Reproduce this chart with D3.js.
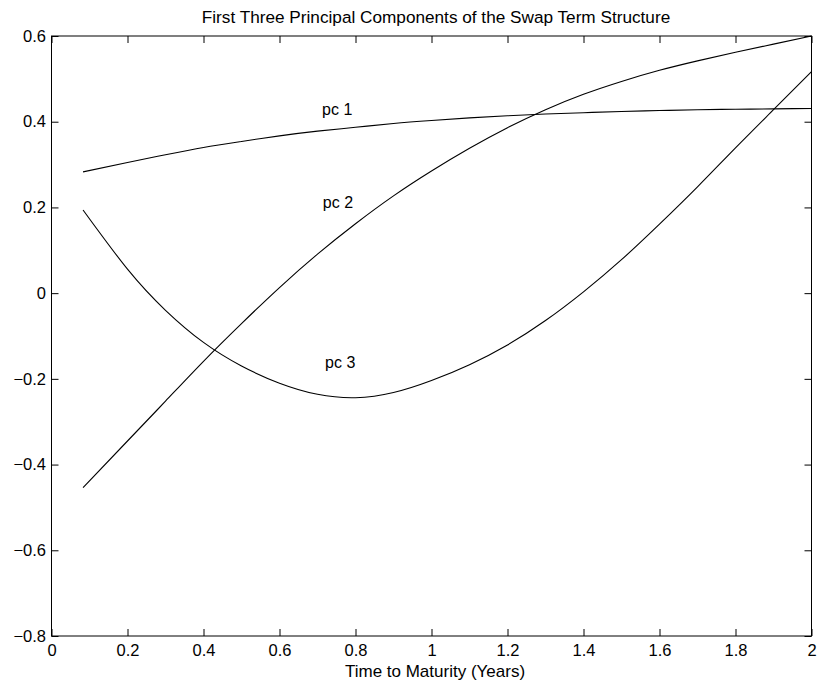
<!DOCTYPE html>
<html>
<head>
<meta charset="utf-8">
<script src="https://cdn.jsdelivr.net/npm/d3@7/dist/d3.min.js"></script>
<style>
  html, body { margin: 0; padding: 0; background: #fff; }
  svg { display: block; font-family: "Liberation Sans", Arial, Helvetica, sans-serif; }
</style>
</head>
<body>
<svg id="chart" width="817" height="688"></svg>
<script>
// ---- data ----
const maturities = [0.083, 0.2, 0.3, 0.4, 0.5, 0.6, 0.7, 0.8, 0.9, 1.0, 1.1, 1.2, 1.3, 1.4, 1.5, 1.6, 1.7, 1.8, 1.9, 2.0];
const pc1 = [0.283, 0.305, 0.323, 0.340, 0.354, 0.367, 0.378, 0.387, 0.396, 0.403, 0.409, 0.414, 0.418, 0.421, 0.424, 0.426, 0.428, 0.429, 0.430, 0.431];
const pc2 = [-0.454, -0.345, -0.252, -0.159, -0.071, 0.013, 0.091, 0.162, 0.227, 0.285, 0.338, 0.386, 0.428, 0.464, 0.494, 0.520, 0.542, 0.562, 0.581, 0.600];
const pc3 = [0.194, 0.056, -0.040, -0.115, -0.170, -0.210, -0.236, -0.244, -0.232, -0.204, -0.167, -0.121, -0.064, 0.003, 0.078, 0.161, 0.248, 0.339, 0.428, 0.517];
const seriesNames = ["pc 1", "pc 2", "pc 3"];
const labelX = [0.712, 0.714, 0.720];
const labelY = [0.416, 0.199, -0.175];
const xTicks = [0, 0.2, 0.4, 0.6, 0.8, 1, 1.2, 1.4, 1.6, 1.8, 2];
const yTicks = [-0.8, -0.6, -0.4, -0.2, 0, 0.2, 0.4, 0.6];
const titleText = "First Three Principal Components of the Swap Term Structure";
const xLabelText = "Time to Maturity (Years)";

// ---- layout ----
const L = 51.5, R = 811.5, T = 36, B = 636;
const svg = d3.select("#chart");
const x = d3.scaleLinear().domain([0, 2]).range([L, R]);
const y = d3.scaleLinear().domain([-0.8, 0.6]).range([B, T]);
const tickLen = 7;
const fmt = v => (v === 0 ? "0" : String(+v.toFixed(1))).replace("-", "\u2212");

// frame
svg.append("rect").attr("x", L).attr("y", T).attr("width", R - L).attr("height", B - T)
  .attr("fill", "none").attr("stroke", "#000").attr("stroke-width", 1);

// axes (inward ticks, all four sides)
const gB = svg.append("g").attr("transform", `translate(0,${B})`)
  .call(d3.axisBottom(x).tickValues(xTicks).tickSizeInner(-tickLen).tickSizeOuter(0).tickPadding(9.5).tickFormat(fmt));
const gT = svg.append("g").attr("transform", `translate(0,${T})`)
  .call(d3.axisTop(x).tickValues(xTicks).tickSizeInner(-tickLen).tickSizeOuter(0).tickFormat(""));
const gL = svg.append("g").attr("transform", `translate(${L},0)`)
  .call(d3.axisLeft(y).tickValues(yTicks).tickSizeInner(-tickLen).tickSizeOuter(0).tickPadding(5.5).tickFormat(fmt));
const gR = svg.append("g").attr("transform", `translate(${R},0)`)
  .call(d3.axisRight(y).tickValues(yTicks).tickSizeInner(-tickLen).tickSizeOuter(0).tickFormat(""));
[gB, gT, gL, gR].forEach(g => {
  g.select(".domain").remove();
  g.selectAll(".tick line").attr("stroke", "#000").attr("stroke-width", 1);
  g.selectAll(".tick text").attr("fill", "#000").attr("font-size", 16.5)
    .attr("font-family", "'Liberation Sans', Arial, sans-serif");
});
gB.selectAll(".tick text").attr("dy", "0.62em");

// curves
const line = d3.line().x(d => x(d[0])).y(d => y(d[1])).curve(d3.curveNatural);
[pc1, pc2, pc3].forEach(vals => {
  svg.append("path")
    .datum(maturities.map((m, i) => [m, vals[i]]))
    .attr("d", line)
    .attr("fill", "none").attr("stroke", "#000").attr("stroke-width", 1.1);
});

// curve labels
seriesNames.forEach((name, i) => {
  svg.append("text").attr("x", x(labelX[i])).attr("y", y(labelY[i]))
    .attr("font-size", 16).attr("fill", "#000").text(name);
});

// title and axis label
svg.append("text").attr("x", 436).attr("y", 23).attr("text-anchor", "middle")
  .attr("font-size", 17.2).attr("fill", "#000").text(titleText);
svg.append("text").attr("x", 435).attr("y", 676.5).attr("text-anchor", "middle")
  .attr("font-size", 17).attr("fill", "#000").text(xLabelText);
</script>
</body>
</html>
